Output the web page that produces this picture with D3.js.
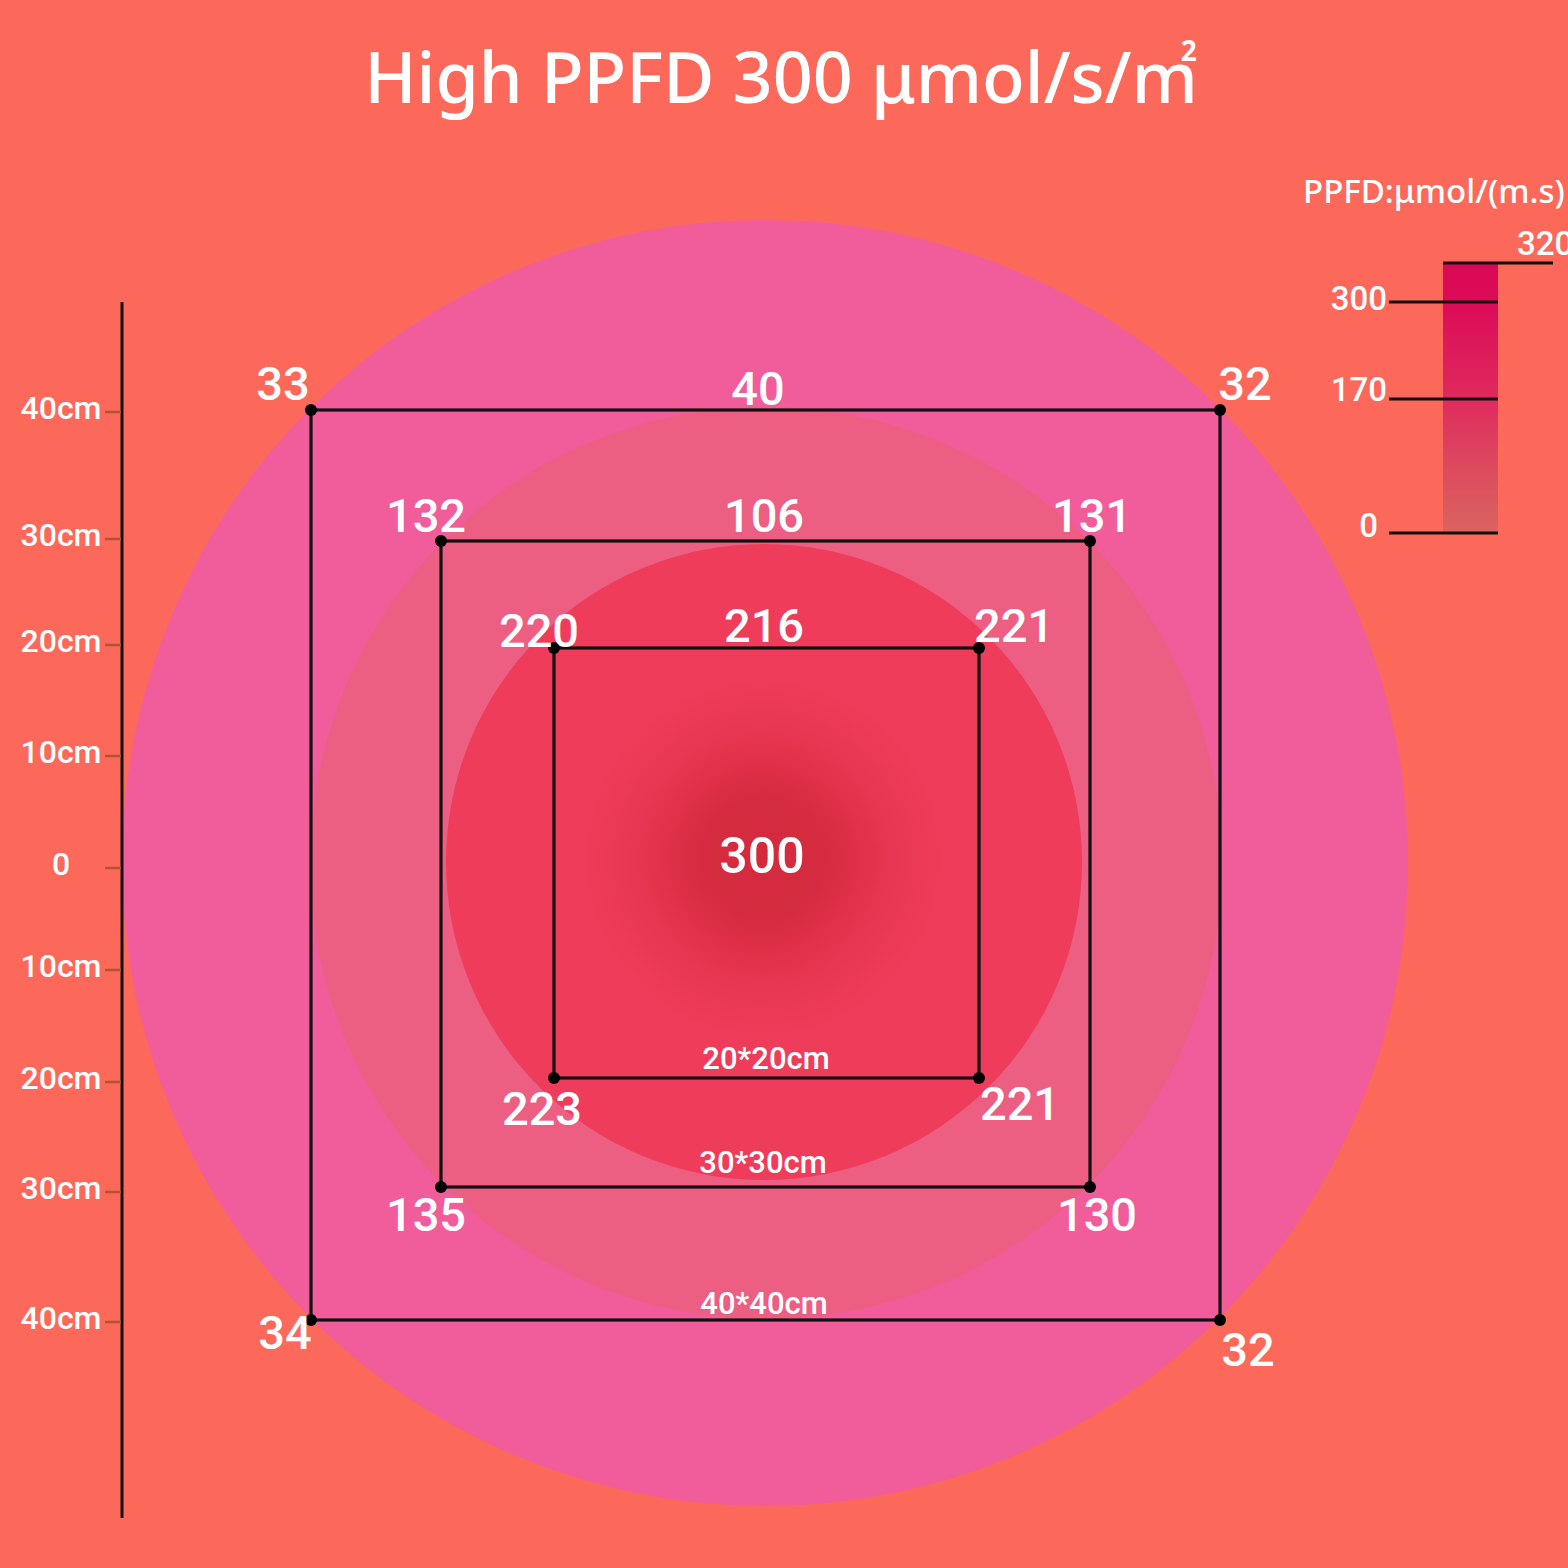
<!DOCTYPE html>
<html><head><meta charset="utf-8">
<script src="https://cdn.jsdelivr.net/npm/d3@7"></script>
<style>html,body{margin:0;padding:0;background:#FC695B;} svg{display:block}</style>
</head><body>
<script>
// ---------- data ----------
const titleText = "High PPFD 300 μmol/s/m";
const titleSup = "2";
const rulerTicks = [-40, -30, -20, -10, 0, 10, 20, 30, 40];
const rulerLabels = ["40cm", "30cm", "20cm", "10cm", "0", "10cm", "20cm", "30cm", "40cm"];
const squareSizes = [40, 30, 20];
const squareNames = ["40*40cm", "30*30cm", "20*20cm"];
const cornerValues40 = [33, 32, 34, 32];     // TL, TR, BL, BR
const cornerValues30 = [132, 131, 135, 130];
const cornerValues20 = [220, 221, 223, 221];
const topEdgeValues = [40, 106, 216];
const centerValue = 300;
const legendTicks = [320, 300, 170, 0];
const legendTitle = "PPFD:μmol/(m.s)";

// ---------- layout / style ----------
const W = 1568, H = 1568;
const BG = "#FC695B";
const zoneColors = ["#F15C9B", "#EC5F82", "#EF3C5A"];
const centerColor = "#D42A3E";
const FONT = "Roboto, 'Noto Sans', sans-serif";

const svg = d3.select("body").append("svg").attr("width", W).attr("height", H);
svg.append("rect").attr("width", W).attr("height", H).attr("fill", BG);
const defs = svg.append("defs");

// scales (cm -> px); piecewise to follow the picture
const sx = d3.scaleLinear().domain([-40, -30, -20, 0, 20, 30, 40]).range([311, 441, 554, 766, 979, 1090, 1220]);
const sy = d3.scaleLinear().domain([-40, -30, -20, 0, 20, 30, 40]).range([410, 541, 648, 865, 1078, 1187, 1320]);
const ay = d3.scaleLinear().domain(rulerTicks).range([412, 539, 645, 756, 868, 970, 1082, 1192, 1322]);
const ly = d3.scaleLinear().domain([0, 170, 300, 320]).range([533, 399, 302, 263]);

// ---------- zones ----------
const zones = [
  { cx: 765, cy: 863, r: 643, c: zoneColors[0] },
  { cx: 766, cy: 863, r: 456, c: zoneColors[1] },
  { cx: 764, cy: 862, r: 318, c: zoneColors[2] }
];
svg.selectAll("circle.zone").data(zones).enter().append("circle").attr("class", "zone")
  .attr("cx", d => d.cx).attr("cy", d => d.cy).attr("r", d => d.r).attr("fill", d => d.c);

const rg = defs.append("radialGradient").attr("id", "glow");
rg.append("stop").attr("offset", "0%").attr("stop-color", centerColor).attr("stop-opacity", 1);
rg.append("stop").attr("offset", "35%").attr("stop-color", centerColor).attr("stop-opacity", 0.92);
rg.append("stop").attr("offset", "70%").attr("stop-color", centerColor).attr("stop-opacity", 0.3);
rg.append("stop").attr("offset", "100%").attr("stop-color", centerColor).attr("stop-opacity", 0);
svg.append("circle").attr("cx", 763).attr("cy", 858).attr("r", 180).attr("fill", "url(#glow)");

// ---------- squares ----------
const gSq = svg.append("g");
squareSizes.forEach(s => {
  gSq.append("rect")
    .attr("x", sx(-s)).attr("y", sy(-s))
    .attr("width", sx(s) - sx(-s)).attr("height", sy(s) - sy(-s))
    .attr("fill", "none").attr("stroke", "#111").attr("stroke-width", 3.2);
});
const corners = s => [[sx(-s), sy(-s)], [sx(s), sy(-s)], [sx(-s), sy(s)], [sx(s), sy(s)]];
squareSizes.forEach(s => {
  gSq.selectAll(null).data(corners(s)).enter().append("circle")
    .attr("cx", d => d[0]).attr("cy", d => d[1]).attr("r", 6).attr("fill", "#000");
});

// ---------- labels ----------
const txt = svg.append("g").attr("fill", "#fff").attr("font-family", FONT).attr("font-weight", 500)
  .attr("text-anchor", "middle").attr("dominant-baseline", "central");
const cornerSets = [cornerValues40, cornerValues30, cornerValues20];
const cornerOffsets = [
  [[-28, -27], [25, -27], [-26, 12], [28, 29]],
  [[-15, -26], [2, -26], [-15, 27], [7, 27]],
  [[-15, -18], [35, -23], [-12, 30], [41, 25]]
];
const topOffsets = [[-8, -22], [-2, -26], [-2, -23]];
const nameOffsets = [[-2, -17], [-3, -25], [0, -20]];
squareSizes.forEach((s, i) => {
  const c = corners(s);
  cornerSets[i].forEach((v, k) => {
    txt.append("text").attr("x", c[k][0] + cornerOffsets[i][k][0]).attr("y", c[k][1] + cornerOffsets[i][k][1])
      .attr("font-size", 47).text(v);
  });
  txt.append("text").attr("x", sx(0) + topOffsets[i][0]).attr("y", sy(-s) + topOffsets[i][1])
    .attr("font-size", 47).text(topEdgeValues[i]);
  txt.append("text").attr("x", sx(0) + nameOffsets[i][0]).attr("y", sy(s) + nameOffsets[i][1])
    .attr("font-size", 31).text(squareNames[i]);
});
txt.append("text").attr("x", 762).attr("y", 856).attr("font-size", 50).text(centerValue);

// ---------- ruler ----------
const ruler = svg.append("g");
ruler.append("line").attr("x1", 122).attr("x2", 122).attr("y1", 302).attr("y2", 1518)
  .attr("stroke", "#111").attr("stroke-width", 3);
ruler.selectAll(".tk").data(rulerTicks).enter().append("line")
  .attr("x1", 105).attr("x2", 121).attr("y1", d => ay(d)).attr("y2", d => ay(d))
  .attr("stroke", "#B4532F").attr("stroke-width", 2.5);
ruler.selectAll(".lb").data(rulerTicks).enter().append("text")
  .attr("x", 61).attr("y", d => ay(d) - 4)
  .attr("text-anchor", "middle").attr("dominant-baseline", "central")
  .attr("fill", "#fff").attr("font-family", FONT).attr("font-weight", 500).attr("font-size", 32)
  .text((d, i) => rulerLabels[i]);

// ---------- title ----------
const title = svg.append("text").attr("x", 781).attr("y", 103).attr("text-anchor", "middle")
  .attr("fill", "#fff").attr("font-family", "'Noto Sans', sans-serif").attr("font-weight", 500)
  .attr("font-size", 70);
title.append("tspan").text(titleText);
title.append("tspan").attr("dx", -17).attr("dy", -42).attr("font-size", 28).attr("font-weight", 700).text(titleSup);

// ---------- legend ----------
const lg = defs.append("linearGradient").attr("id", "lgGrad").attr("x1", 0).attr("y1", 1).attr("x2", 0).attr("y2", 0);
const legendStops = [[0, "#D9645F"], [85, "#DD4A5E"], [170, "#E02A5E"], [300, "#DC0B57"], [320, "#DB0855"]];
legendStops.forEach(d => lg.append("stop").attr("offset", (ly(0) - ly(d[0])) / (ly(0) - ly(320))).attr("stop-color", d[1]));
const leg = svg.append("g");
leg.append("rect").attr("x", 1443).attr("y", ly(320)).attr("width", 55).attr("height", ly(0) - ly(320))
  .attr("fill", "url(#lgGrad)");
leg.selectAll("line").data(legendTicks).enter().append("line")
  .attr("x1", d => d === 320 ? 1443 : 1389).attr("x2", d => d === 320 ? 1553 : 1498)
  .attr("y1", d => ly(d)).attr("y2", d => ly(d))
  .attr("stroke", "#111").attr("stroke-width", 3);
const legLabelPos = { 320: [1517, -8, "start"], 300: [1387, 8, "end"], 170: [1387, 2, "end"], 0: [1378, 4, "end"] };
leg.selectAll("text.v").data(legendTicks).enter().append("text")
  .attr("x", d => legLabelPos[d][0]).attr("y", d => ly(d) + legLabelPos[d][1])
  .attr("text-anchor", d => legLabelPos[d][2])
  .attr("fill", "#fff").attr("font-family", FONT).attr("font-weight", 500).attr("font-size", 33)
  .text(d => d);
leg.append("text").attr("x", 1303).attr("y", 203).attr("fill", "#fff")
  .attr("font-family", "'Noto Sans', sans-serif").attr("font-weight", 500).attr("font-size", 33)
  .text(legendTitle);
</script>
</body></html>
